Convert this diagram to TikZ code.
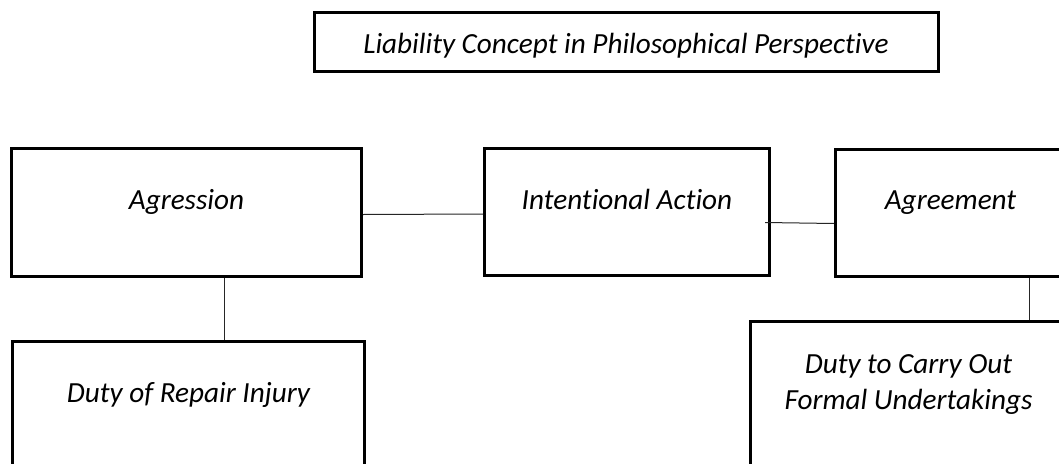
\documentclass[tikz,border=0pt]{standalone}
\usepackage{fontspec}
\setmainfont{Carlito}[Ligatures={NoCommon}]
\usetikzlibrary{calc}
\begin{document}
\begin{tikzpicture}[x=1pt,y=-1pt,
  box/.style={draw=black, line width=3pt, inner sep=0pt, anchor=north west,
              font=\itshape\fontsize{29.2pt}{36pt}\selectfont},
  titlebox/.style={box, anchor=center},
  conn/.style={draw=black!85, line width=1pt}]
\useasboundingbox (0,0) rectangle (1059,463);
\fill[white] (0,0) rectangle (1059,463);
\clip (0,0) rectangle (1059,463);

\node[titlebox, minimum width=624pt, minimum height=59pt, text height=41pt, text depth=18pt]
  (title) at (626,41.5) {Liability Concept in Philosophical Perspective};

\node[box, minimum width=350pt, minimum height=128pt, text height=61pt, text depth=67pt]
  (agr) at (10,147) {Agression};
\node[box, minimum width=285pt, minimum height=127pt, text height=61pt, text depth=66pt]
  (int) at (483,147) {Intentional Action};
\node[box, minimum width=230pt, minimum height=127pt, text height=60pt, text depth=67pt]
  (agm) at (834,148) {Agreement};
\node[box, minimum width=352pt, minimum height=180pt, text height=61pt, text depth=119pt]
  (dor) at (11,340) {Duty of Repair Injury};
\node[box, minimum width=316pt, minimum height=200pt, text height=52pt, text depth=148pt]
  (dtc) at (749,320) {\begin{tabular}[t]{@{}c@{}}Duty to Carry Out\\Formal Undertakings\end{tabular}};

\draw[conn] ([yshift=-2pt]agr.east) -- ([yshift=-2pt]int.west);
\draw[conn] ([xshift=-6pt,yshift=-10.5pt]int.east) -- ([yshift=-10.5pt]agm.west);
\draw[conn] ([xshift=38pt]agr.south) -- ([xshift=38pt]agr.south |- dor.north);
\draw[conn] ([xshift=79pt]agm.south) -- ([xshift=79pt]agm.south |- dtc.north);
\end{tikzpicture}
\end{document}
